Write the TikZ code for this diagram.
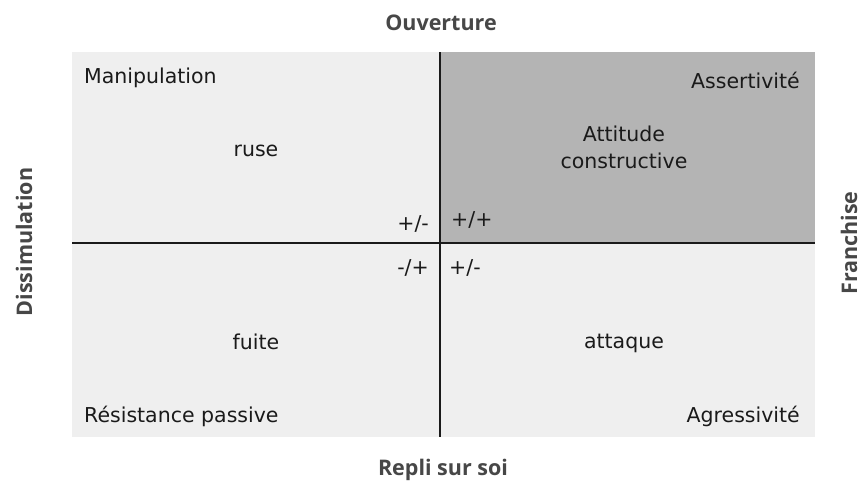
\documentclass[tikz,border=0pt]{standalone}
\usepackage{fontspec}
\setmainfont{DejaVu Sans}
\newfontfamily\ttlfont{Open Sans}
\definecolor{lightq}{HTML}{EFEFEF}
\definecolor{darkq}{HTML}{B4B4B4}
\definecolor{txt}{HTML}{1A1A1A}
\definecolor{ttl}{HTML}{474747}
\begin{document}
\begin{tikzpicture}[x=1pt,y=-1pt,
  lbl/.style={text=txt,font=\fontsize{20.5}{27}\selectfont,inner sep=0pt},
  ttlstyle/.style={text=ttl,font=\ttlfont\fontsize{21.5}{24}\selectfont\bfseries,inner sep=0pt,anchor=base},
  axis/.style={draw=txt,line width=2.2pt}]
\useasboundingbox (0,0) rectangle (863,482);
\fill[white] (0,0) rectangle (863,482);
% quadrants
\fill[lightq] (72,52) rectangle (815,437);
\fill[darkq] (440,52) rectangle (815,243);
% axes
\coordinate (top) at (440,52);
\coordinate (bot) at (440,437);
\coordinate (lft) at (72,243);
\coordinate (rgt) at (815,243);
\draw[axis] (top) -- (bot);
\draw[axis] (lft) -- (rgt);
% titles
\node[ttlstyle] (ouv) at (441,30) {Ouverture};
\node[ttlstyle] (rep) at (443,475) {Repli sur soi};
\node[ttlstyle,rotate=90] (dis) at (32,242) {Dissimulation};
\node[ttlstyle,rotate=90] (fra) at (857,243) {Franchise};
% corner labels
\node[lbl,anchor=base west] (man) at (84,83) {Manipulation};
\node[lbl,anchor=base east] (ass) at (800,88) {Assertivité};
\node[lbl,anchor=base west] (res) at (84,422) {Résistance passive};
\node[lbl,anchor=base east] (agr) at (800,422) {Agressivité};
% central labels
\node[lbl,anchor=base] (ruse) at (256,156) {ruse};
\node[lbl,anchor=base] (att1) at (624,141) {Attitude};
\node[lbl,anchor=base] (att2) at (624,168) {constructive};
\node[lbl,anchor=base] (fui) at (256,349) {fuite};
\node[lbl,anchor=base] (atq) at (624,348) {attaque};
% signs
\node[lbl,anchor=base east] (s1) at (429,230) {+/-};
\node[lbl,anchor=base west] (s2) at (451,226) {+/+};
\node[lbl,anchor=base east] (s3) at (429,274) {-/+};
\node[lbl,anchor=base west] (s4) at (449,274) {+/-};
\end{tikzpicture}
\end{document}
